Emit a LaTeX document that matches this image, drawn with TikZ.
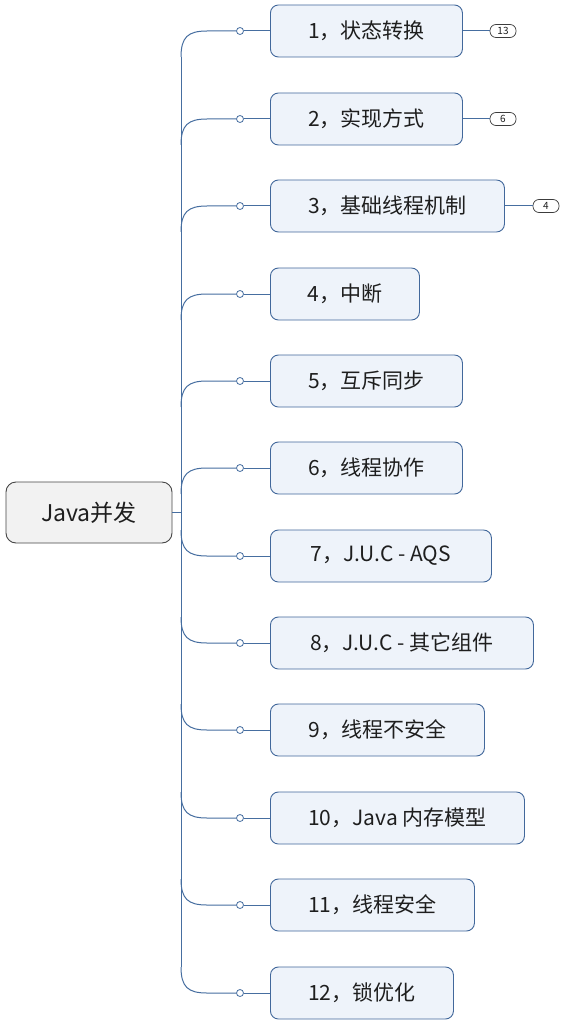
\documentclass[tikz,border=0pt]{standalone}
\usepackage{fontspec}
\setmainfont{Noto Sans CJK SC}
\begin{document}
\begin{tikzpicture}[x=1pt,y=-1pt,
  topic/.style={draw=boxborder, fill=boxfill, rounded corners=8pt, line width=0.9pt, minimum height=52pt, anchor=west, inner sep=0pt, text=textc, font=\fontsize{21}{21}\selectfont},
  rootbox/.style={draw=rootborder, fill=rootfill, rounded corners=10pt, line width=0.9pt, minimum width=166pt, minimum height=61pt, inner sep=0pt, text=textc, font=\fontsize{23}{23}\selectfont},
  knob/.style={circle, draw=linec, fill=white, line width=0.8pt, minimum size=7pt, inner sep=0pt},
  pill/.style={draw=pillborder, fill=white, rounded corners=6pt, line width=0.7pt, minimum width=26pt, minimum height=13pt, inner sep=0pt, font=\fontsize{10}{10}\selectfont, text=textc},
  conn/.style={draw=linec, line width=1pt},
]
\definecolor{boxborder}{RGB}{66,104,155}
\definecolor{boxfill}{RGB}{238,243,250}
\definecolor{rootborder}{RGB}{70,70,70}
\definecolor{rootfill}{RGB}{242,242,242}
\definecolor{textc}{RGB}{30,30,30}
\definecolor{linec}{RGB}{70,110,160}
\definecolor{pillborder}{RGB}{60,60,60}
\useasboundingbox[fill=white] (0,0) rectangle (564,1024);

\node[rootbox] (root) at (89,512.5) {Java并发};
\coordinate (j) at (181,512.5);
\draw[conn] (root.east) -- (j);
\coordinate (ttop) at (181,57);
\coordinate (tbot) at (181,967);
\draw[conn] (ttop) -- (tbot);

\foreach \i/\y/\w/\t in {1/31/192/{1，状态转换},2/119/192/{2，实现方式},3/206/234/{3，基础线程机制},4/294/149/{4，中断},5/381/192/{5，互斥同步},6/468/192/{6，线程协作},7/556/221/{7，J.U.C - AQS},8/643/263/{8，J.U.C - 其它组件},9/730/214/{9，线程不安全},10/818/254/{10，Java 内存模型},11/905/204/{11，线程安全},12/993/183/{12，锁优化}}{
  \node[topic, minimum width=\w pt] (b\i) at (270,\y) {\t};
  \node[knob] (c\i) at (240,\y) {};
  \draw[conn] (c\i.east) -- (b\i.west);
  \pgfmathsetmacro{\s}{\y<512 ? 1 : -1}
  \coordinate (t\i) at (181,\y+26*\s);
  \draw[conn] (t\i) .. controls (181,\y+6*\s) and (188,\y) .. (207,\y) -- (c\i.west);
}

\node[pill] (p1) at (503,31) {13};
\draw[conn] (b1.east) -- (p1.west);
\node[pill] (p2) at (503,119) {6};
\draw[conn] (b2.east) -- (p2.west);
\node[pill] (p3) at (546,206) {4};
\draw[conn] (b3.east) -- (p3.west);
\end{tikzpicture}
\end{document}
